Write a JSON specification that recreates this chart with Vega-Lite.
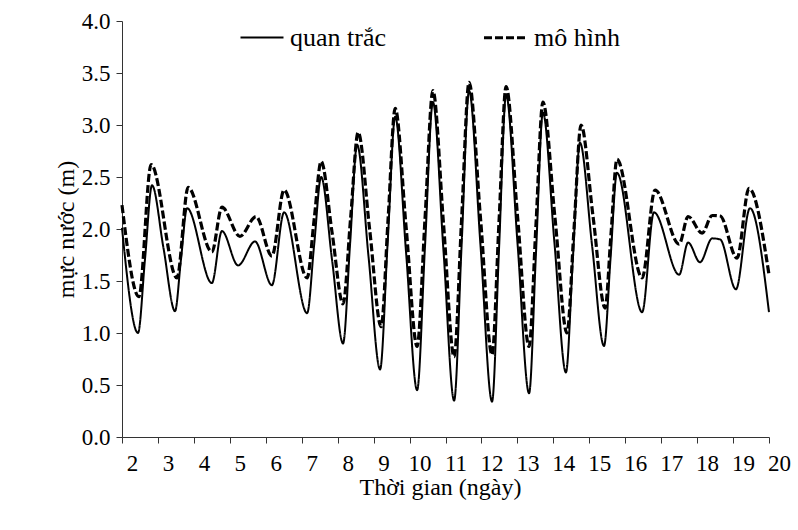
{
  "$schema": "https://vega.github.io/schema/vega-lite/v6.json",
  "autosize": {"type": "none"},
  "width": 647,
  "height": 416,
  "padding": {"left": 122, "top": 21, "right": 29, "bottom": 93},
  "background": "white",
  "config": {
    "view": {"stroke": null},
    "font": "Liberation Serif",
    "axis": {"grid": false, "domainColor": "#333333", "tickColor": "#333333", "labelColor": "#000000", "titleColor": "#000000", "labelFont": "Liberation Serif", "titleFont": "Liberation Serif", "labelFontSize": 23, "titleFontSize": 24, "titleFontWeight": "normal", "domainWidth": 1, "tickWidth": 1},
    "legend": {"labelFont": "Liberation Serif", "labelFontSize": 26, "labelColor": "#000000"}
  },
  "data": {"values": [
    {"s": "quan trắc", "x": 2.00, "y": 2.01},
    {"s": "quan trắc", "x": 2.445, "y": 1.00},
    {"s": "quan trắc", "x": 2.64, "y": 1.71},
    {"s": "quan trắc", "x": 2.835, "y": 2.42},
    {"s": "quan trắc", "x": 3.155, "y": 1.815},
    {"s": "quan trắc", "x": 3.475, "y": 1.21},
    {"s": "quan trắc", "x": 3.64, "y": 1.705},
    {"s": "quan trắc", "x": 3.81, "y": 2.20},
    {"s": "quan trắc", "x": 4.50, "y": 1.48},
    {"s": "quan trắc", "x": 4.78, "y": 1.98},
    {"s": "quan trắc", "x": 5.23, "y": 1.65},
    {"s": "quan trắc", "x": 5.70, "y": 1.88},
    {"s": "quan trắc", "x": 6.17, "y": 1.46},
    {"s": "quan trắc", "x": 6.51, "y": 2.16},
    {"s": "quan trắc", "x": 7.15, "y": 1.19},
    {"s": "quan trắc", "x": 7.345, "y": 1.845},
    {"s": "quan trắc", "x": 7.54, "y": 2.50},
    {"s": "quan trắc", "x": 7.845, "y": 1.70},
    {"s": "quan trắc", "x": 8.15, "y": 0.90},
    {"s": "quan trắc", "x": 8.345, "y": 1.855},
    {"s": "quan trắc", "x": 8.54, "y": 2.81},
    {"s": "quan trắc", "x": 8.86, "y": 1.73},
    {"s": "quan trắc", "x": 9.18, "y": 0.65},
    {"s": "quan trắc", "x": 9.39, "y": 1.865},
    {"s": "quan trắc", "x": 9.60, "y": 3.08},
    {"s": "quan trắc", "x": 9.905, "y": 1.765},
    {"s": "quan trắc", "x": 10.21, "y": 0.45},
    {"s": "quan trắc", "x": 10.43, "y": 1.835},
    {"s": "quan trắc", "x": 10.65, "y": 3.22},
    {"s": "quan trắc", "x": 10.945, "y": 1.785},
    {"s": "quan trắc", "x": 11.24, "y": 0.35},
    {"s": "quan trắc", "x": 11.4475, "y": 1.84},
    {"s": "quan trắc", "x": 11.655, "y": 3.33},
    {"s": "quan trắc", "x": 11.975, "y": 1.835},
    {"s": "quan trắc", "x": 12.295, "y": 0.34},
    {"s": "quan trắc", "x": 12.49, "y": 1.815},
    {"s": "quan trắc", "x": 12.685, "y": 3.29},
    {"s": "quan trắc", "x": 13.005, "y": 1.855},
    {"s": "quan trắc", "x": 13.325, "y": 0.42},
    {"s": "quan trắc", "x": 13.5175, "y": 1.77},
    {"s": "quan trắc", "x": 13.71, "y": 3.12},
    {"s": "quan trắc", "x": 14.03, "y": 1.87},
    {"s": "quan trắc", "x": 14.35, "y": 0.62},
    {"s": "quan trắc", "x": 14.545, "y": 1.725},
    {"s": "quan trắc", "x": 14.74, "y": 2.83},
    {"s": "quan trắc", "x": 15.075, "y": 1.85},
    {"s": "quan trắc", "x": 15.41, "y": 0.875},
    {"s": "quan trắc", "x": 15.59, "y": 1.71},
    {"s": "quan trắc", "x": 15.77, "y": 2.54},
    {"s": "quan trắc", "x": 16.47, "y": 1.20},
    {"s": "quan trắc", "x": 16.80, "y": 2.16},
    {"s": "quan trắc", "x": 17.50, "y": 1.56},
    {"s": "quan trắc", "x": 17.75, "y": 1.87},
    {"s": "quan trắc", "x": 18.08, "y": 1.68},
    {"s": "quan trắc", "x": 18.42, "y": 1.91},
    {"s": "quan trắc", "x": 18.64, "y": 1.90},
    {"s": "quan trắc", "x": 19.08, "y": 1.42},
    {"s": "quan trắc", "x": 19.47, "y": 2.20},
    {"s": "quan trắc", "x": 20.0, "y": 1.20},
    {"s": "mô hình", "x": 2.00, "y": 2.23},
    {"s": "mô hình", "x": 2.47, "y": 1.35},
    {"s": "mô hình", "x": 2.81, "y": 2.62},
    {"s": "mô hình", "x": 3.53, "y": 1.53},
    {"s": "mô hình", "x": 3.84, "y": 2.40},
    {"s": "mô hình", "x": 4.50, "y": 1.78},
    {"s": "mô hình", "x": 4.78, "y": 2.21},
    {"s": "mô hình", "x": 5.28, "y": 1.93},
    {"s": "mô hình", "x": 5.73, "y": 2.12},
    {"s": "mô hình", "x": 6.17, "y": 1.74},
    {"s": "mô hình", "x": 6.51, "y": 2.375},
    {"s": "mô hình", "x": 7.15, "y": 1.53},
    {"s": "mô hình", "x": 7.345, "y": 2.09},
    {"s": "mô hình", "x": 7.54, "y": 2.65},
    {"s": "mô hình", "x": 7.845, "y": 1.965},
    {"s": "mô hình", "x": 8.15, "y": 1.28},
    {"s": "mô hình", "x": 8.36, "y": 2.105},
    {"s": "mô hình", "x": 8.57, "y": 2.93},
    {"s": "mô hình", "x": 8.89, "y": 1.995},
    {"s": "mô hình", "x": 9.21, "y": 1.06},
    {"s": "mô hình", "x": 9.405, "y": 2.11},
    {"s": "mô hình", "x": 9.60, "y": 3.16},
    {"s": "mô hình", "x": 9.905, "y": 2.015},
    {"s": "mô hình", "x": 10.21, "y": 0.87},
    {"s": "mô hình", "x": 10.43, "y": 2.10},
    {"s": "mô hình", "x": 10.65, "y": 3.33},
    {"s": "mô hình", "x": 10.945, "y": 2.05},
    {"s": "mô hình", "x": 11.24, "y": 0.77},
    {"s": "mô hình", "x": 11.4475, "y": 2.09},
    {"s": "mô hình", "x": 11.655, "y": 3.41},
    {"s": "mô hình", "x": 11.975, "y": 2.10},
    {"s": "mô hình", "x": 12.295, "y": 0.79},
    {"s": "mô hình", "x": 12.49, "y": 2.08},
    {"s": "mô hình", "x": 12.685, "y": 3.37},
    {"s": "mô hình", "x": 13.005, "y": 2.12},
    {"s": "mô hình", "x": 13.325, "y": 0.87},
    {"s": "mô hình", "x": 13.5175, "y": 2.045},
    {"s": "mô hình", "x": 13.71, "y": 3.22},
    {"s": "mô hình", "x": 14.045, "y": 2.11},
    {"s": "mô hình", "x": 14.38, "y": 1.00},
    {"s": "mô hình", "x": 14.575, "y": 2.00},
    {"s": "mô hình", "x": 14.77, "y": 3.00},
    {"s": "mô hình", "x": 15.105, "y": 2.12},
    {"s": "mô hình", "x": 15.44, "y": 1.24},
    {"s": "mô hình", "x": 15.605, "y": 1.955},
    {"s": "mô hình", "x": 15.77, "y": 2.67},
    {"s": "mô hình", "x": 16.47, "y": 1.53},
    {"s": "mô hình", "x": 16.83, "y": 2.375},
    {"s": "mô hình", "x": 17.50, "y": 1.855},
    {"s": "mô hình", "x": 17.75, "y": 2.12},
    {"s": "mô hình", "x": 18.14, "y": 1.96},
    {"s": "mô hình", "x": 18.42, "y": 2.13},
    {"s": "mô hình", "x": 18.64, "y": 2.125},
    {"s": "mô hình", "x": 19.11, "y": 1.72},
    {"s": "mô hình", "x": 19.445, "y": 2.39},
    {"s": "mô hình", "x": 20.0, "y": 1.56}
  ]},
  "mark": {"type": "line", "interpolate": "monotone", "color": "#000000"},
  "encoding": {
    "x": {"field": "x", "type": "quantitative", "scale": {"domain": [2, 20], "nice": false, "zero": false},
      "axis": {"title": "Thời gian (ngày)", "values": [2,3,4,5,6,7,8,9,10,11,12,13,14,15,16,17,18,19,20], "format": "d", "tickSize": 6, "labelPadding": 9, "labelOffset": 10, "titlePadding": 0, "titleX": 318, "labelFlush": false, "labelOverlap": false}},
    "y": {"field": "y", "type": "quantitative", "scale": {"domain": [0, 4], "nice": false},
      "axis": {"title": "mực nước (m)", "values": [0,0.5,1,1.5,2,2.5,3,3.5,4], "format": ".1f", "tickSize": 6, "labelPadding": 6, "titlePadding": 3}},
    "strokeDash": {"field": "s", "type": "nominal", "scale": {"domain": ["quan trắc", "mô hình"], "range": [[1, 0], [8, 3]]},
      "legend": {"title": null, "orient": "none", "legendX": 117, "legendY": -7, "direction": "horizontal", "symbolType": "stroke", "symbolSize": 1850, "symbolStrokeColor": "#000000", "labelFont": "Liberation Serif", "labelFontSize": 26, "labelColor": "#000000", "labelOffset": 5, "columnPadding": 90}},
    "strokeWidth": {"field": "s", "type": "nominal", "scale": {"domain": ["quan trắc", "mô hình"], "range": [2, 3.2]}, "legend": null}
  }
}
